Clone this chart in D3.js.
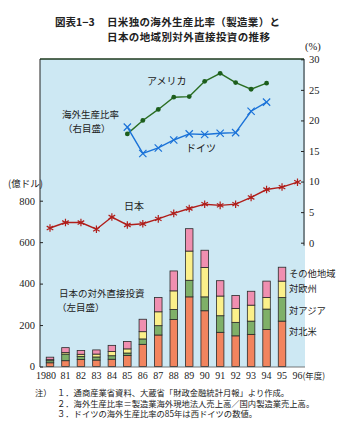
<!DOCTYPE html>
<html><head><meta charset="utf-8">
<script src="https://cdn.jsdelivr.net/npm/d3@7"></script>
<style>
body{margin:0;background:#fff;}
svg{display:block;}
.jp{font-family:"Noto Sans CJK JP",sans-serif;}
.num{font-family:"Liberation Serif","DejaVu Serif",serif;}
</style></head>
<body>
<svg id="c" width="344" height="425"></svg>
<script>
const years = ["1980","81","82","83","84","85","86","87","88","89","90","91","92","93","94","95","96"];
const japanRatio = [2.4,3.3,3.3,2.2,4.2,2.9,3.1,3.9,4.8,5.6,6.3,6.1,6.3,7.4,8.7,9.1,9.9];
const usRatio = [null,null,null,null,null,17.8,20.0,21.8,23.8,23.9,26.4,27.7,26.2,25.1,26.1,null,null];
const deRatio = [null,null,null,null,null,18.9,14.6,15.5,16.8,17.8,17.7,17.9,18.0,21.5,23.0,null,null];
const fdiYears = years.slice(0,16);
const northAmerica = [18,28,34,31,35,53,107,152,227,336,269,165,148,155,179,219];
const asia =         [10,32,15,15,17,12,26,45,48,80,67,80,65,64,98,114];
const europe =       [5,7,10,14,20,20,35,67,90,141,142,95,67,77,56,79];
const other =        [12,24,18,20,30,36,60,69,96,108,83,74,63,67,79,67];
const leftTicks = [0,200,400,600,800];
const rightTicks = [0,5,10,15,20,25,30];
const regionNames = ["対北米","対アジア","対欧州","その他地域"];
const regionColors = ["#f2845e","#7fb068","#fbf08a","#f08fb0"];

const svg = d3.select("#c");
const x = d3.scalePoint().domain(years).range([50,297.5]);
const yL = d3.scaleLinear().domain([0,800]).range([366.5,200.7]);
const yR = d3.scaleLinear().domain([0,30]).range([242.7,59.3]);
const plot = {l:40, t:59, r:305, b:367};

// background
svg.append("rect").attr("x",plot.l).attr("y",plot.t).attr("width",plot.r-plot.l).attr("height",plot.b-plot.t).attr("fill","#cde8f3");

// Title
svg.append("text").attr("class","jp").attr("x",55).attr("y",25.5).attr("font-size",10.5).attr("font-weight","bold").attr("fill","#222").text("図表1−3");
svg.append("text").attr("class","jp").attr("x",107).attr("y",25.5).attr("font-size",10.5).attr("font-weight","bold").attr("fill","#222")
  .attr("textLength",173).attr("lengthAdjust","spacing").text("日米独の海外生産比率（製造業）と");
svg.append("text").attr("class","jp").attr("x",107).attr("y",40.5).attr("font-size",10.5).attr("font-weight","bold").attr("fill","#222")
  .attr("textLength",163).attr("lengthAdjust","spacing").text("日本の地域別対外直接投資の推移");

// stacked bars
const rows = fdiYears.map((yr,i)=>({year:yr, a:northAmerica[i], b:asia[i], c:europe[i], d:other[i]}));
const stack = d3.stack().keys(["a","b","c","d"])(rows);
const bw = 7.5;
stack.forEach((s,k)=>{
  svg.append("g").selectAll("rect").data(s).join("rect")
    .attr("x",d=>x(d.data.year)-bw/2).attr("width",bw)
    .attr("y",d=>yL(d[1])).attr("height",d=>yL(d[0])-yL(d[1]))
    .attr("fill",regionColors[k]).attr("stroke","#2a2a2a").attr("stroke-width",0.8);
});

// frame
svg.append("line").attr("x1",plot.l).attr("x2",plot.r-1).attr("y1",plot.t).attr("y2",plot.t).attr("stroke","#1e3a1e").attr("stroke-width",1.3);
svg.append("line").attr("x1",plot.l).attr("x2",plot.l).attr("y1",plot.t).attr("y2",plot.b).attr("stroke","#222").attr("stroke-width",1);
svg.append("line").attr("x1",plot.l).attr("x2",plot.r).attr("y1",plot.b).attr("y2",plot.b).attr("stroke","#555").attr("stroke-width",0.8);

// left axis
const la = d3.axisLeft(yL).tickValues(leftTicks).tickSize(-3).tickPadding(5).tickFormat(d3.format("d"));
const lag = svg.append("g").attr("transform",`translate(${plot.l},0)`).call(la);
lag.select(".domain").remove();
lag.selectAll("text").attr("class","num").attr("font-size",10.5).attr("fill","#222");
lag.selectAll("line").attr("stroke","#222");
svg.append("text").attr("class","jp").attr("x",8).attr("y",187).attr("font-size",9.5).attr("fill","#222").text("(億ドル)");

// right axis
const ra = d3.axisRight(yR).tickValues(rightTicks).tickSize(-3).tickPadding(5);
const rag = svg.append("g").attr("transform",`translate(${plot.r-1},0)`).call(ra);
rag.select(".domain").remove();
rag.selectAll("text").attr("class","num").attr("font-size",10.5).attr("fill","#222");
rag.selectAll("line").attr("stroke","#222");
svg.append("line").attr("x1",plot.r-1).attr("x2",plot.r-1).attr("y1",plot.t).attr("y2",yR(0)+3).attr("stroke","#222").attr("stroke-width",1);
svg.append("text").attr("class","num").attr("x",305).attr("y",50).attr("font-size",10.5).attr("fill","#222").text("(%)");

// x labels
const xl = svg.append("g");
years.forEach((yr,i)=>{
  xl.append("text").attr("class","num").attr("x",x(yr)+(i===0?-4:0)).attr("y",379).attr("text-anchor","middle").attr("font-size",10).attr("fill","#222").text(yr);
});
svg.append("text").attr("class","jp").attr("x",x("96")+5).attr("y",379).attr("font-size",8.5).attr("fill","#222").text("(年度)");

// lines
function drawLine(vals,color,marker){
  const pts = years.map((yr,i)=>({yr,v:vals[i]})).filter(d=>d.v!=null);
  const line = d3.line().x(d=>x(d.yr)).y(d=>yR(d.v));
  svg.append("path").datum(pts).attr("d",line).attr("fill","none").attr("stroke",color).attr("stroke-width",1.4);
  const g = svg.append("g");
  pts.forEach(d=>{
    if(marker==="dot"){
      g.append("circle").attr("cx",x(d.yr)).attr("cy",yR(d.v)).attr("r",2.4).attr("fill","#1c5e1c");
    } else {
      g.append("path").attr("transform",`translate(${x(d.yr)},${yR(d.v)})`)
        .attr("d",d3.symbol().type(marker==="star"?d3.symbolAsterisk:d3.symbolTimes).size(marker==="star"?40:36)())
        .attr("fill","none").attr("stroke",color).attr("stroke-width",1.2);
    }
  });
}
drawLine(japanRatio,"#b01e1a","star");
drawLine(usRatio,"#2a6e22","dot");
drawLine(deRatio,"#1a72d8","times");

// labels in plot
const lab = (t,xx,yy,fs)=>svg.append("text").attr("class","jp").attr("x",xx).attr("y",yy).attr("font-size",fs||10).attr("fill","#222").text(t);
lab("アメリカ",147,85);
lab("ドイツ",186,152);
lab("海外生産比率",62,118,9.5);
lab("（右目盛）",63,132,9.5);
lab("日本",124,210);
lab("日本の対外直接投資",59,297,9.5);
lab("（左目盛）",57,311,9.5);
lab("その他地域",289,277,9.3);
lab("対欧州",289,292,9.3);
lab("対アジア",289,314,9.3);
lab("対北米",289,335,9.3);

// notes
const nfs = 8.3;
lab("注）",35,396,nfs);
lab("１．通商産業省資料、大蔵省「財政金融統計月報」より作成。",57,396,nfs);
lab("２．海外生産比率＝製造業海外現地法人売上高／国内製造業売上高。",57,406.5,nfs);
lab("３．ドイツの海外生産比率の85年は西ドイツの数値。",57,417,nfs);
</script>
</body></html>
